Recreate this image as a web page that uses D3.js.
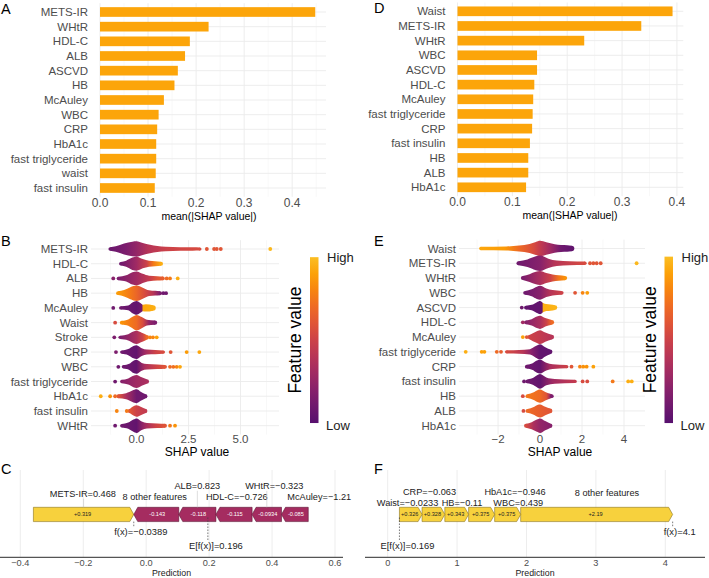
<!DOCTYPE html>
<html><head><meta charset="utf-8">
<script src="https://cdn.jsdelivr.net/npm/d3@7"></script>
<style>body{margin:0;background:#fff}svg{display:block;font-family:"Liberation Sans",Arial,Helvetica,sans-serif}</style>
</head><body><svg id="c" width="709" height="578"></svg>
<script>
// ---------------- DATA ----------------
const featA = ["METS-IR","WHtR","HDL-C","ALB","ASCVD","HB","McAuley","WBC","CRP","HbA1c","fast triglyceride","waist","fast insulin"];
const impA  = [0.448,0.226,0.187,0.177,0.162,0.155,0.133,0.122,0.119,0.117,0.117,0.116,0.114];
const featD = ["Waist","METS-IR","WHtR","WBC","ASCVD","HDL-C","McAuley","fast triglyceride","CRP","fast insulin","HB","ALB","HbA1c"];
const impD  = [0.392,0.335,0.231,0.145,0.145,0.140,0.138,0.137,0.136,0.132,0.129,0.129,0.125];
const impTicks = [0,0.1,0.2,0.3,0.4];

// beeswarm B: per feature, violin density profile [shap, relDensity], colour stops [shap, featureValue], single dots [shap, featureValue]
const featB = ["METS-IR","HDL-C","ALB","HB","McAuley","Waist","Stroke","CRP","WBC","fast triglyceride","HbA1c","fast insulin","WHtR"];
const densB = [
 [[-1.27,0.22],[-1.0,0.35],[-0.6,0.7],[-0.2,0.95],[0,1],[0.3,0.78],[0.65,0.55],[1.0,0.4],[1.4,0.3],[2.1,0.24],[2.7,0.22],[3.05,0.2]],
 [[-0.76,0.22],[-0.5,0.4],[-0.2,0.8],[0,0.9],[0.3,0.6],[0.6,0.38],[0.9,0.32],[1.18,0.25]],
 [[-0.875,0.22],[-0.5,0.4],[-0.2,0.8],[0,0.9],[0.3,0.6],[0.6,0.35],[1.0,0.28],[1.27,0.24]],
 [[-0.89,0.25],[-0.6,0.42],[-0.3,0.78],[0,1],[0.3,0.72],[0.6,0.38],[0.9,0.3],[1.13,0.26]],
 [[-0.76,0.22],[-0.4,0.32],[-0.2,0.7],[0,0.9],[0.2,0.6],[0.3,0.42],[0.45,0.48],[0.79,0.36]],
 [[-0.71,0.25],[-0.4,0.42],[-0.15,0.82],[0,1],[0.25,0.72],[0.5,0.38],[0.89,0.28]],
 [[-0.79,0.22],[-0.4,0.4],[-0.15,0.75],[0,0.85],[0.25,0.6],[0.49,0.3]],
 [[-0.71,0.22],[-0.4,0.4],[-0.15,0.8],[0,0.9],[0.25,0.5],[0.5,0.32],[0.9,0.28],[1.29,0.22]],
 [[-0.63,0.22],[-0.35,0.4],[-0.15,0.8],[0,0.9],[0.25,0.5],[0.5,0.35],[1.0,0.3],[1.37,0.25]],
 [[-0.71,0.22],[-0.4,0.4],[-0.15,0.75],[0,0.85],[0.25,0.55],[0.49,0.3]],
 [[-0.875,0.25],[-0.5,0.4],[-0.2,0.75],[0,0.9],[0.2,0.6],[0.41,0.3]],
 [[-0.31,0.3],[-0.15,0.6],[0,0.75],[0.2,0.55],[0.41,0.3]],
 [[-0.71,0.22],[-0.4,0.4],[-0.15,0.8],[0,0.95],[0.25,0.55],[0.5,0.35],[1.0,0.3],[1.37,0.25]]
];
const colsB = [
 [[-1.27,0.08],[-0.5,0.15],[0,0.25],[0.6,0.4],[1.5,0.5],[3.05,0.55]],
 [[-0.76,0.1],[0,0.3],[0.5,0.5],[0.8,0.75],[1.18,0.95]],
 [[-0.875,0.15],[0,0.3],[0.6,0.45],[1.0,0.6],[1.27,0.65]],
 [[-0.89,0.88],[-0.3,0.75],[0,0.68],[0.4,0.55],[0.8,0.4],[1.13,0.15]],
 [[-0.76,0.1],[0,0.05],[0.25,0.1],[0.32,0.92],[0.79,0.95]],
 [[-0.71,0.85],[-0.3,0.75],[0,0.7],[0.3,0.55],[0.6,0.25],[0.89,0.15]],
 [[-0.79,0.15],[0,0.35],[0.3,0.5],[0.49,0.7]],
 [[-0.71,0.1],[0,0.05],[0.4,0.3],[0.9,0.5],[1.29,0.55]],
 [[-0.63,0.1],[0,0.05],[0.4,0.35],[0.9,0.5],[1.37,0.6]],
 [[-0.71,0.2],[0,0.3],[0.49,0.35]],
 [[-0.875,0.6],[-0.5,0.35],[0,0.1],[0.41,0.1]],
 [[-0.31,0.6],[0,0.5],[0.41,0.45]],
 [[-0.71,0.1],[0,0.05],[0.4,0.3],[0.9,0.5],[1.37,0.6]]
];
const dotsB = [
 [[3.38,0.6],[3.73,0.6],[3.86,0.6],[4.05,0.6],[6.43,0.98]],
 [],
 [[-1.12,0.2],[1.45,0.7],[1.61,0.75],[1.98,0.95]],
 [[1.29,0.1],[1.42,0.1]],
 [[-1.12,0.1]],
 [[-1.03,0.55]],
 [[-1.07,0.15],[0.65,0.8],[0.79,0.8],[0.97,0.9]],
 [[-0.99,0.15],[1.64,0.6],[2.41,0.88],[3.02,0.92]],
 [[-0.875,0.1],[1.61,0.7],[1.77,0.72],[1.93,0.8],[2.09,0.92]],
 [[-1.03,0.1]],
 [[-1.72,0.95],[-1.27,0.85],[-1.03,0.7]],
 [[-0.95,0.8],[-0.47,0.75]],
 [[-1.03,0.1],[1.61,0.75],[1.85,0.85]]
];
const shapTicksB = [0,2.5,5];

// beeswarm E
const featE = ["Waist","METS-IR","WHtR","WBC","ASCVD","HDL-C","McAuley","fast triglyceride","CRP","fast insulin","HB","ALB","HbA1c"];
const densE = [
 [[-2.82,0.22],[-1.6,0.26],[-1.0,0.4],[-0.5,0.6],[-0.2,0.85],[0,1],[0.3,0.8],[0.7,0.55],[1.0,0.45],[1.3,0.42],[1.5,0.36]],
 [[-1.03,0.25],[-0.6,0.5],[-0.2,0.9],[0,1],[0.4,0.6],[0.8,0.35],[1.4,0.25],[2.14,0.22]],
 [[-0.82,0.25],[-0.5,0.5],[-0.2,0.8],[0,0.9],[0.3,0.65],[0.6,0.45],[0.9,0.35],[1.19,0.28]],
 [[-0.71,0.25],[-0.4,0.45],[-0.15,0.8],[0,0.9],[0.3,0.55],[0.6,0.35],[1.03,0.25]],
 [[-0.67,0.25],[-0.4,0.35],[-0.15,0.7],[0,0.85],[0.15,0.6],[0.3,0.45],[0.5,0.4],[0.71,0.3]],
 [[-0.67,0.25],[-0.4,0.4],[-0.15,0.75],[0,0.85],[0.25,0.55],[0.56,0.3]],
 [[-0.48,0.3],[-0.2,0.7],[0,0.9],[0.25,0.6],[0.56,0.3]],
 [[-1.59,0.22],[-1.0,0.25],[-0.48,0.35],[-0.2,0.75],[0,1],[0.25,0.6],[0.48,0.3]],
 [[-0.63,0.25],[-0.35,0.45],[-0.15,0.8],[0,0.9],[0.3,0.5],[0.6,0.3],[1.27,0.22]],
 [[-0.6,0.25],[-0.3,0.5],[-0.1,0.85],[0,0.95],[0.3,0.5],[0.7,0.3],[1.67,0.22]],
 [[-0.6,0.25],[-0.3,0.5],[-0.1,0.8],[0,0.85],[0.25,0.55],[0.48,0.3]],
 [[-0.6,0.25],[-0.3,0.5],[-0.1,0.8],[0,0.85],[0.25,0.55],[0.48,0.3]],
 [[-0.67,0.25],[-0.4,0.45],[-0.15,0.8],[0,0.95],[0.25,0.6],[0.48,0.3]]
];
const colsE = [
 [[-2.82,0.92],[-1.7,0.88],[-1.0,0.7],[-0.3,0.55],[0,0.45],[0.5,0.3],[1.0,0.1],[1.5,0.05]],
 [[-1.03,0.1],[0,0.2],[0.7,0.4],[2.14,0.55]],
 [[-0.82,0.15],[0,0.35],[0.5,0.5],[0.9,0.75],[1.19,0.85]],
 [[-0.71,0.1],[0,0.2],[0.5,0.4],[1.03,0.5]],
 [[-0.67,0.05],[0.1,0.05],[0.15,0.95],[0.71,0.97]],
 [[-0.67,0.2],[0,0.35],[0.3,0.5],[0.56,0.7]],
 [[-0.48,0.5],[0,0.45],[0.56,0.4]],
 [[-1.59,0.55],[-0.8,0.4],[-0.4,0.2],[0,0.05],[0.48,0.05]],
 [[-0.63,0.1],[0,0.05],[0.5,0.35],[1.27,0.5]],
 [[-0.6,0.1],[0,0.05],[0.6,0.3],[1.67,0.45]],
 [[-0.6,0.75],[0,0.7],[0.3,0.6],[0.48,0.3]],
 [[-0.6,0.7],[0,0.65],[0.48,0.6]],
 [[-0.67,0.55],[-0.3,0.35],[0,0.25],[0.48,0.2]]
];
const dotsE = [
 [],
 [[2.38,0.6],[2.54,0.6],[2.7,0.6],[2.89,0.6],[4.6,0.98]],
 [],
 [[1.67,0.6],[2.03,0.8],[2.25,0.88]],
 [[-0.87,0.1]],
 [[-0.82,0.3]],
 [[-0.82,0.9],[-0.63,0.6]],
 [[-3.54,0.95],[-2.78,0.9],[-2.65,0.9],[-2.06,0.7],[-1.86,0.65]],
 [[1.5,0.6],[1.9,0.8],[2.06,0.85],[2.22,0.85],[2.54,0.9]],
 [[-0.76,0.1],[2.03,0.55],[2.25,0.55],[3.46,0.75],[4.2,0.95],[4.37,0.95]],
 [[-0.82,0.55],[0.56,0.15]],
 [[-0.79,0.55]],
 []
];
const shapTicksE = [-2,0,2,4];

// force plots (segments listed from f(x) outward)
const cLabels = ["METS-IR=0.468","8 other features","ALB=0.823","HDL-C=\u22120.726","WHtR=\u22120.323","McAuley=\u22121.21"];
const cValues = [0.319,-0.143,-0.118,-0.115,-0.0934,-0.085];
const cBase = 0.196, cFxText = "f(x)=\u22120.0389", cBaseText = "E[f(x)]=0.196";
const cTicks = [-0.4,-0.2,0,0.2,0.4,0.6];
const fLabels = ["8 other features","WBC=0.439","HbA1c=\u22120.946","HB=\u22120.11","CRP=\u22120.063","Waist=\u22120.0233"];
const fValues = [2.19,0.375,0.375,0.343,0.328,0.326];
const fBase = 0.169, fFxText = "f(x)=4.1", fBaseText = "E[f(x)]=0.169";
const fTicks = [0,1,2,3,4];

// ---------------- LAYOUT ----------------
const cNudge = [-0.7,-1.5,0,2.8,7.5,24.4], cDy = [-13.5,-10.8,-21.5,-10.8,-21.5,-10.8];
const fNudge = [10.3,10.6,33.4,5.3,-3.9,-3.2], fDy = [-14.3,-4.3,-15.3,-4.3,-15.3,-4.3];
const GRID = "#EBEBEB", GRIDm = "#F4F4F4", TXT = "#4D4D4D";
const svg = d3.select("#c");
const defs = svg.append("defs");
const inf = fv => d3.interpolateInferno(0.25 + 0.6 * fv);

function panelLabel(t, x, y) {
  svg.append("text").attr("x", x).attr("y", y).attr("font-size", 14.5).attr("fill", "#000").text(t);
}

// ---------- importance bars ----------
function impPanel(feats, vals, xs, ys, titleX) {
  const g = svg.append("g");
  const [x0, x1] = xs.range();
  const step = ys.step();
  const top = ys.range()[0] - 0.6 * step, bot = ys.range()[1] + 0.6 * step;
  const minor = d3.range(0.05, xs.domain()[1], 0.1);
  g.selectAll(".mn").data(minor).join("line").attr("x1", d => xs(d)).attr("x2", d => xs(d))
    .attr("y1", top).attr("y2", bot).attr("stroke", GRIDm).attr("stroke-width", 0.6);
  g.selectAll(".mj").data(impTicks).join("line").attr("x1", d => xs(d)).attr("x2", d => xs(d))
    .attr("y1", top).attr("y2", bot).attr("stroke", GRID).attr("stroke-width", 0.9);
  g.selectAll(".hz").data(feats).join("line").attr("x1", x0).attr("x2", x1)
    .attr("y1", d => ys(d)).attr("y2", d => ys(d)).attr("stroke", GRID).attr("stroke-width", 0.9);
  const bh = step * 0.66;
  g.selectAll(".bar").data(feats).join("rect").attr("x", xs(0)).attr("y", d => ys(d) - bh / 2)
    .attr("width", (d, i) => xs(vals[i]) - xs(0)).attr("height", bh).attr("fill", "#fca50a");
  g.selectAll(".yl").data(feats).join("text").attr("x", x0 - 12).attr("y", d => ys(d) + 4)
    .attr("text-anchor", "end").attr("font-size", 11.5).attr("fill", TXT).text(d => d);
  g.selectAll(".xt").data(impTicks).join("text").attr("x", d => xs(d)).attr("y", bot + 10)
    .attr("text-anchor", "middle").attr("font-size", 12).attr("fill", TXT).text(d3.format(".1f"));
  g.append("text").attr("x", titleX).attr("y", bot + 23).attr("text-anchor", "middle")
    .attr("font-size", 10.5).attr("fill", "#000").text("mean(|SHAP value|)");
}

// ---------- beeswarm ----------
const wS = d3.scaleLinear().domain([0, 1]).range([0, 7.7]);
function swarmPanel(id, feats, dens, cols, dots, xs, ys, ticks, fmt, titleX, legX) {
  const g = svg.append("g");
  const [x0, x1] = xs.range();
  const step = ys.step();
  const top = ys.range()[0] - 0.6 * step, bot = ys.range()[1] + 0.6 * step;
  const [dmin, dmax] = xs.domain();
  const major = ticks;
  const half = (ticks[1] - ticks[0]) / 2;
  const minor = d3.range(Math.ceil((dmin - half) / (2 * half)) * 2 * half + half, dmax, 2 * half).filter(v => v > dmin);
  g.selectAll(".mn").data(minor).join("line").attr("x1", d => xs(d)).attr("x2", d => xs(d))
    .attr("y1", top).attr("y2", bot).attr("stroke", GRIDm).attr("stroke-width", 0.6);
  g.selectAll(".mj").data(major).join("line").attr("x1", d => xs(d)).attr("x2", d => xs(d))
    .attr("y1", top).attr("y2", bot).attr("stroke", GRID).attr("stroke-width", 0.9);
  g.selectAll(".hz").data(feats).join("line").attr("x1", x0).attr("x2", x1)
    .attr("y1", d => ys(d)).attr("y2", d => ys(d)).attr("stroke", GRID).attr("stroke-width", 0.9);
  feats.forEach((f, i) => {
    const y = ys(f);
    const c = cols[i], a = c[0][0], b = c[c.length - 1][0];
    const gid = id + "g" + i;
    const lg = defs.append("linearGradient").attr("id", gid).attr("gradientUnits", "userSpaceOnUse")
      .attr("x1", xs(a)).attr("x2", xs(b)).attr("y1", 0).attr("y2", 0);
    c.forEach(s => lg.append("stop").attr("offset", (s[0] - a) / (b - a)).attr("stop-color", inf(s[1])));
    const cAt = d3.scaleLinear().domain(c.map(s => s[0])).range(c.map(s => s[1])).clamp(true);
    const dd = dens[i];
    const area = d3.area().x(d => xs(d[0])).y0(d => y - wS(d[1])).y1(d => y + wS(d[1])).curve(d3.curveMonotoneX);
    [dd[0], dd[dd.length - 1]].forEach(p => g.append("circle").attr("cx", xs(p[0])).attr("cy", y)
      .attr("r", wS(p[1])).attr("fill", inf(cAt(p[0]))));
    g.append("path").attr("d", area(dd)).attr("fill", `url(#${gid})`);
    g.selectAll(".dt" + i).data(dots[i]).join("circle").attr("cx", d => xs(d[0])).attr("cy", y)
      .attr("r", 1.9).attr("fill", d => inf(d[1]));
  });
  g.selectAll(".yl").data(feats).join("text").attr("x", x0 - 3).attr("y", d => ys(d) + 4)
    .attr("text-anchor", "end").attr("font-size", 11.5).attr("fill", TXT).text(d => d);
  g.selectAll(".xt").data(ticks).join("text").attr("x", d => xs(d)).attr("y", bot + 8)
    .attr("text-anchor", "middle").attr("font-size", 11.5).attr("fill", TXT).text(fmt);
  g.append("text").attr("x", titleX).attr("y", bot + 21.5).attr("text-anchor", "middle")
    .attr("font-size", 12).attr("fill", "#000").text("SHAP value");
  // colour bar legend
  const cg = defs.append("linearGradient").attr("id", id + "cb").attr("x1", 0).attr("x2", 0).attr("y1", 1).attr("y2", 0);
  d3.range(0, 1.0001, 0.1).forEach(t => cg.append("stop").attr("offset", t).attr("stop-color", inf(t)));
  const cbTop = top + 17, cbBot = bot - 11.5;
  g.append("rect").attr("x", legX).attr("y", cbTop).attr("width", 8.5).attr("height", cbBot - cbTop).attr("fill", `url(#${id}cb)`);
  g.append("text").attr("x", legX + 17).attr("y", cbTop + 5).attr("font-size", 13).attr("fill", "#222").text("High");
  g.append("text").attr("x", legX + 16).attr("y", cbBot + 6.5).attr("font-size", 13).attr("fill", "#222").text("Low");
  const cy = (cbTop + cbBot) / 2;
  g.append("text").attr("transform", `translate(${legX - 9},${cy}) rotate(-90)`).attr("text-anchor", "middle")
    .attr("font-size", 17.5).attr("fill", "#000").text("Feature value");
}

// ---------- force plot ----------
function forcePanel(labels, values, base, fxText, baseText, xs, ticks, fmt, axisX0, axisX1, nudge, dy, leaders) {
  const g = svg.append("g");
  const barTop = 507.3, barH = 14.3, barMid = barTop + barH / 2, barBot = barTop + barH, axisY = 557.3, gridTop = 470;
  g.selectAll(".gr").data(ticks).join("line").attr("x1", d => xs(d)).attr("x2", d => xs(d))
    .attr("y1", gridTop).attr("y2", axisY).attr("stroke", GRID).attr("stroke-width", 0.9);
  const fx = base + d3.sum(values);
  let cp = fx, cn = fx;
  const segs = labels.map((l, i) => {
    const v = values[i];
    let lo, hi;
    if (v > 0) { hi = cp; lo = cp - v; cp = lo; } else { lo = cn; hi = cn - v; cn = hi; }
    return { l, v, lo, hi, i };
  });
  const h = 4;
  segs.forEach(s => {
    const xl = xs(s.lo), xr = xs(s.hi);
    const pts = s.v > 0
      ? [[xl, barTop], [xr - h, barTop], [xr, barMid], [xr - h, barBot], [xl, barBot]]
      : [[xr, barTop], [xl + h, barTop], [xl, barMid], [xl + h, barBot], [xr, barBot]];
    g.append("path").attr("d", d3.line()(pts) + "Z")
      .attr("fill", s.v > 0 ? "#f7d13d" : "#a52c60")
      .attr("stroke", s.v > 0 ? "#8a7420" : "#5e1838").attr("stroke-width", 0.6);
    g.append("text").attr("x", (xl + xr) / 2 + (s.v > 0 ? -1 : 1)).attr("y", barMid + 2)
      .attr("text-anchor", "middle").attr("font-size", 5.6)
      .attr("fill", s.v > 0 ? "#222" : "#fff").text((s.v > 0 ? "+" : "-") + Math.abs(s.v));
    const cx = (xl + xr) / 2, ly = barTop + dy[s.i];
    if (leaders && dy[s.i] < -12) {
      g.append("line").attr("x1", cx).attr("x2", cx).attr("y1", ly + 5).attr("y2", barTop)
        .attr("stroke", "#c8c8c8").attr("stroke-width", 0.6);
    }
    g.append("text").attr("x", cx + nudge[s.i]).attr("y", ly + 3.4).attr("text-anchor", "middle")
      .attr("font-size", 9.2).attr("fill", "#222").text(s.l);
  });
  const dash = "1.6,1.4";
  g.append("line").attr("x1", xs(fx)).attr("x2", xs(fx)).attr("y1", barBot).attr("y2", barBot + 5.5)
    .attr("stroke", "#444").attr("stroke-width", 0.7).attr("stroke-dasharray", dash);
  g.append("text").attr("x", xs(fx) + 7).attr("y", barBot + 13.5).attr("text-anchor", "middle")
    .attr("font-size", 9.4).attr("fill", "#222").text(fxText);
  g.append("line").attr("x1", xs(base)).attr("x2", xs(base)).attr("y1", barMid + 3).attr("y2", 540)
    .attr("stroke", "#444").attr("stroke-width", 0.7).attr("stroke-dasharray", dash);
  g.append("text").attr("x", xs(base) + 8).attr("y", 549.2).attr("text-anchor", "middle")
    .attr("font-size", 9.4).attr("fill", "#222").text(baseText);
  g.append("line").attr("x1", axisX0).attr("x2", axisX1).attr("y1", axisY).attr("y2", axisY)
    .attr("stroke", "#555").attr("stroke-width", 1.3);
  g.selectAll(".xt").data(ticks).join("text").attr("x", d => xs(d)).attr("y", 565.8)
    .attr("text-anchor", "middle").attr("font-size", 9.2).attr("fill", TXT).text(fmt);
  g.append("text").attr("x", (axisX0 + axisX1) / 2).attr("y", 575.8).attr("text-anchor", "middle")
    .attr("font-size", 8.8).attr("fill", "#222").text("Prediction");
}

// ---------------- DRAW ----------------
const xA = d3.scaleLinear().domain([0, 0.4704]).range([100, 326]);
const yA = d3.scalePoint().domain(featA).range([12, 188]);
impPanel(featA, impA, xA, yA, 209);
const xD = d3.scaleLinear().domain([0, 0.4116]).range([457.5, 683.3]);
const yD = d3.scalePoint().domain(featD).range([11.3, 187.3]);
impPanel(featD, impD, xD, yD, 570);

const xB = d3.scaleLinear().domain([-2.19, 6.85]).range([91, 279]);
const yB = d3.scalePoint().domain(featB).range([249, 425.7]);
swarmPanel("B", featB, densB, colsB, dotsB, xB, yB, shapTicksB, d3.format(".1f"), 197, 310);
const xE = d3.scaleLinear().domain([-3.86, 5.0]).range([459, 645]);
const yE = d3.scalePoint().domain(featE).range([248.5, 425.7]);
swarmPanel("E", featE, densE, colsE, dotsE, xE, yE, shapTicksE, d => (d < 0 ? "\u2212" : "") + Math.abs(d), 560, 664.5);

const xC = d3.scaleLinear().domain([-0.4, 0.6]).range([20.3, 335]);
forcePanel(cLabels, cValues, cBase, cFxText, cBaseText, xC, cTicks,
  d => (d < 0 ? "\u2212" : "") + d3.format(".1f")(Math.abs(d)), 0, 343, cNudge, cDy, true);
const xF = d3.scaleLinear().domain([0, 4]).range([387.7, 665.3]);
forcePanel(fLabels, fValues, fBase, fFxText, fBaseText, xF, fTicks, d => String(d), 365, 705, fNudge, fDy, false);

panelLabel("A", 1, 13.5); panelLabel("B", 1, 246); panelLabel("C", 1, 474);
panelLabel("D", 374, 13); panelLabel("E", 374, 246); panelLabel("F", 374, 474);
</script></body></html>
